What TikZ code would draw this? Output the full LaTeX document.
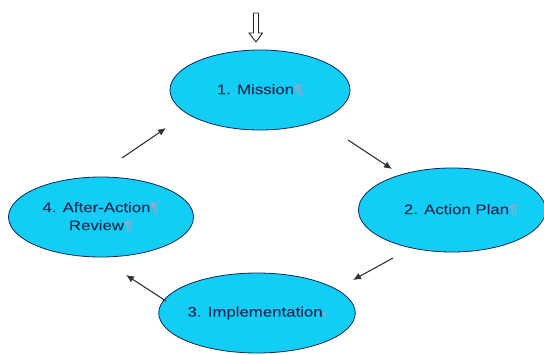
\documentclass[tikz,border=0pt]{standalone}
\usepackage{fontspec}
\newfontfamily\lsans[FakeStretch=1.2,FakeBold=0.4]{Liberation Sans}
\usetikzlibrary{shapes.geometric,arrows.meta}
\definecolor{ellfill}{RGB}{18,206,246}
\definecolor{elldraw}{RGB}{10,40,90}
\definecolor{txt}{RGB}{28,48,88}
\definecolor{pil}{RGB}{150,170,200}
\newcommand{\pilc}{\textcolor{pil}{¶}}
\tikzset{
  stage/.style={ellipse, draw=elldraw, fill=ellfill, line width=0.8pt,
    inner sep=0pt, text=txt, font=\lsans\fontsize{14}{18}\selectfont, align=center},
  flow/.style={draw=black!80, line width=1.1pt, -{Latex[length=8pt,width=7pt]}},
  startarrow/.style={draw=black!85, fill=white, line width=0.9pt}
}
\begin{document}
\begin{tikzpicture}[x=1pt,y=-1pt]
\useasboundingbox (0,0) rectangle (544,354);
\node[stage, minimum width=180pt, minimum height=80pt] (mission) at (260,90) {1. Mission\pilc};
\node[stage, minimum width=181pt, minimum height=84pt] (action) at (452,210) {\hspace*{18pt}2. Action Plan\pilc};
\node[stage, minimum width=185pt, minimum height=80pt] (impl) at (257,313) {3. Implementation{\fontsize{6}{6}\selectfont\pilc}};
\node[stage, minimum width=185pt, minimum height=80pt] (review) at (101,217) {4. After-Action\pilc\\Review\pilc};
% entry arrow (outlined block arrow)
\coordinate (entry) at (256,13);
\draw[startarrow] (entry) ++(-2.5,0) -- ++(0,20) -- ++(-4.5,0) -- (256,42) -- (262.5,33) -- ++(-4,0) -- ++(0,-20) -- cycle;
% cycle arrows
\coordinate (a1s) at (348,140); \coordinate (a1e) at (392,169);
\coordinate (a2s) at (393,258); \coordinate (a2e) at (353,280);
\coordinate (a3s) at (166,301); \coordinate (a3e) at (126,275);
\coordinate (a4s) at (122,158); \coordinate (a4e) at (166,128);
\draw[flow] (a1s) -- (a1e);
\draw[flow] (a2s) -- (a2e);
\draw[flow] (a3s) -- (a3e);
\draw[flow] (a4s) -- (a4e);
\end{tikzpicture}
\end{document}
